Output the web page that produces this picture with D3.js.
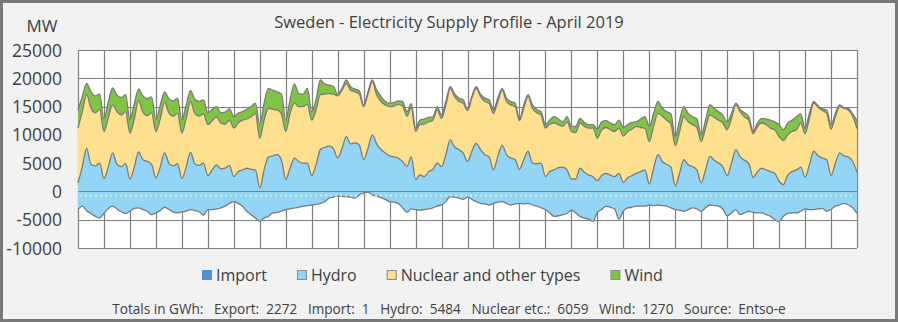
<!DOCTYPE html>
<html>
<head>
<meta charset="utf-8">
<script src="https://cdn.jsdelivr.net/npm/d3@7"></script>
<style>
  body { margin: 0; background: #fff; }
  svg text { font-family: "Open Sans", sans-serif; fill: #404040; }
</style>
</head>
<body>
<div id="chart"></div>
<script>
// one sample every 4 hours, 6 per day (0h 4h 8h 12h 16h 20h), last value = end of month
const STEP = 4
const hydro = [
  1500, 4400, 7600, 4800, 4500, 5000,
  2300, 4300, 6800, 4800, 4400, 4900,
  2200, 4300, 7000, 5600, 5300, 4800,
  2400, 4300, 6800, 5000, 4500, 4900,
  2300, 4300, 6900, 4900, 4600, 5000,
  2800, 3800, 4700, 4000, 4100, 4600,
  2600, 3500, 3800, 4100, 3900, 3800,
  600, 3800, 6100, 6300, 6500, 5600,
  2100, 4100, 5900, 5300, 5000, 5000,
  2800, 4700, 7400, 7800, 8000, 7600,
  5900, 7600, 9700, 8400, 8600, 8200,
  5600, 7600, 10000, 8400, 7400, 6800,
  6300, 6100, 5900, 5300, 4400, 6100,
  2100, 2900, 2600, 3500, 3900, 5000,
  4400, 6500, 9100, 7900, 7400, 6800,
  5300, 7100, 8500, 7400, 6500, 6100,
  3800, 6200, 8200, 6500, 5900, 5600,
  3900, 5600, 7100, 5000, 4900, 5000,
  2600, 3500, 3800, 4200, 4300, 3800,
  2200, 2200, 4100, 3400, 2900, 2600,
  1900, 2800, 3200, 2900, 2600, 3200,
  1600, 2400, 2800, 3200, 3500, 3800,
  1300, 4100, 6500, 5300, 4800, 4300,
  1000, 3200, 5600, 4700, 4400, 3800,
  1500, 3800, 6200, 5500, 5000, 4400,
  2800, 5000, 7400, 6100, 5500, 4900,
  2500, 3500, 4100, 3800, 3500, 3200,
  1800, 1200, 2900, 3500, 3800, 4300,
  2500, 4700, 7100, 6300, 5900, 5600,
  2800, 5000, 6800, 6300, 6100, 5300,
  3400
]
const nuclear = [
  9700, 9700, 9500, 9900, 9400, 9500,
  8300, 8700, 8500, 9300, 9100, 9200,
  8100, 8500, 9000, 8400, 8100, 9100,
  8200, 8500, 9000, 8900, 8800, 8900,
  8000, 8600, 9000, 8900, 8700, 8700,
  9000, 8700, 8500, 8100, 7800, 8000,
  8600, 8600, 8800, 8700, 9300, 10000,
  8800, 8800, 8600, 8200, 7900, 8100,
  8500, 9700, 9700, 9700, 10000, 10400,
  9800, 9700, 9700, 9400, 9300, 9600,
  11000, 10300, 9400, 9500, 9000, 9000,
  9400, 9600, 9400, 8700, 8500, 8500,
  8700, 9000, 9500, 9800, 8900, 8700,
  8500, 8900, 9300, 8800, 8700, 9400,
  8500, 8800, 9100, 8900, 8500, 8800,
  9000, 9400, 9700, 9400, 9400, 9500,
  10000, 9700, 9700, 9400, 9400, 9400,
  8600, 9100, 9700, 9700, 9000, 8500,
  8600, 8400, 8300, 7600, 7200, 8500,
  8400, 8200, 8000, 8100, 8300, 8600,
  7500, 8100, 8100, 8000, 8000, 8000,
  8200, 8200, 8200, 8300, 7800, 7400,
  7500, 7400, 7300, 8000, 7800, 7600,
  7100, 7400, 7600, 7600, 7400, 7500,
  7300, 7400, 7300, 7600, 7600, 7700,
  8100, 7900, 7900, 8000, 7700, 7700,
  7700, 8000, 8000, 8000, 7700, 7700,
  7900, 7800, 7100, 7100, 7100, 7800,
  7700, 8200, 8500, 8600, 8400, 8200,
  8200, 8200, 8200, 8400, 8300, 8000,
  7700
]
const wind = [
  3200, 2700, 2000, 2900, 3000, 2700,
  2200, 2800, 3000, 2900, 3100, 3000,
  2300, 2700, 2100, 2900, 3000, 2800,
  2100, 2400, 1800, 2500, 2700, 2700,
  2300, 2400, 1900, 2500, 2600, 2500,
  2100, 2000, 1800, 1800, 2100, 2000,
  2000, 1700, 1500, 1700, 1800, 1800,
  2400, 3000, 3500, 3400, 3200, 3500,
  2000, 2400, 3400, 2300, 2200, 2800,
  1500, 1800, 2600, 1800, 1500, 1400,
  300, 300, 600, 600, 500, 600,
  300, 400, 300, 800, 900, 600,
  600, 600, 600, 800, 800, 700,
  600, 800, 900, 800, 600, 600,
  600, 600, 300, 500, 600, 600,
  200, 300, 300, 400, 600, 600,
  600, 600, 300, 600, 600, 600,
  300, 600, 300, 600, 600, 600,
  600, 700, 1100, 1000, 800, 900,
  900, 1100, 800, 700, 600, 600,
  1600, 1400, 1200, 1200, 1200, 1400,
  1500, 1200, 1200, 800, 1500, 2000,
  2700, 2300, 2100, 1400, 1500, 1800,
  1600, 2000, 1800, 1500, 1400, 1500,
  1200, 1400, 1800, 1600, 1500, 1400,
  1400, 900, 300, 400, 700, 600,
  400, 600, 800, 1000, 1400, 1400,
  2100, 1900, 2100, 2000, 2300, 1600,
  1000, 900, 300, 200, 300, 600,
  800, 600, 300, 100, 300, 400,
  1400
]
const exportMW = [
  -3200, -2600, -3400, -3900, -4400, -4700,
  -3900, -3000, -2600, -3100, -3600, -3900,
  -3500, -3000, -2900, -3200, -3500, -4100,
  -3800, -3400, -2800, -3200, -3600, -3800,
  -3600, -3500, -3200, -3400, -3600, -4200,
  -3200, -3200, -3100, -2900, -2600, -2100,
  -1800, -2100, -2600, -3500, -4100, -4700,
  -5300, -4700, -4400, -3800, -3700, -3500,
  -3200, -3100, -2900, -2800, -2600, -2500,
  -2400, -2300, -2100, -1800, -1200, -1000,
  -800, -900, -900, -1000, -1200, -600,
  -300, -100, -600, -800, -1100, -1400,
  -1800, -1900, -2100, -2900, -3700, -3100,
  -3200, -3300, -3200, -3100, -2900, -2600,
  -2400, -1800, -900, -1000, -1200, -1400,
  -1000, -1400, -1800, -2100, -2200, -2400,
  -2100, -1900, -1800, -2100, -2400, -2200,
  -2100, -2200, -2100, -2400, -2600, -2900,
  -3200, -3800, -4400, -4300, -4100, -3900,
  -3300, -3800, -4400, -4700, -4900, -5300,
  -3700, -3200, -2600, -2800, -3100, -4900,
  -3500, -2900, -2800, -2600, -2600, -2600,
  -2400, -2500, -2400, -2500, -2600, -2900,
  -3200, -3300, -3500, -3200, -2900, -3100,
  -3500, -2900, -2400, -2500, -2600, -3100,
  -4300, -3800, -3200, -4100, -3800, -3500,
  -3700, -3800, -3800, -4100, -4400, -5000,
  -5300, -4400, -3900, -3800, -3800, -3500,
  -3100, -3200, -3200, -3100, -3000, -3500,
  -3200, -2600, -2400, -2100, -2400, -2900,
  -3900
]
const yTicks = [25000, 20000, 15000, 10000, 5000, 0, -5000, -10000]
const days = 30
const seriesNames = ['Import', 'Hydro', 'Nuclear and other types', 'Wind']
const totalLabels = ['Export', 'Import', 'Hydro', 'Nuclear etc.', 'Wind']
const totalValues = [2272, 1, 5484, 6059, 1270]
const source = 'Entso-e'
const title = 'Sweden - Electricity Supply Profile - April 2019'

const colors = {
  Import: '#4f92d3',
  Hydro: '#93d5f6',
  'Nuclear and other types': '#ffe08e',
  Wind: '#80c444'
}

function draw(){
  let dimensions = {
    width: 898,
    height: 322,
    margin: { top: 50, bottom: 74, left: 78, right: 41 }
  }
  dimensions.ctrWidth = dimensions.width - dimensions.margin.left - dimensions.margin.right
  dimensions.ctrHeight = dimensions.height - dimensions.margin.top - dimensions.margin.bottom

  const svg = d3.select('#chart')
    .append('svg')
    .attr('width', dimensions.width)
    .attr('height', dimensions.height)

  // background + frame
  svg.append('rect')
    .attr('x', 1.5).attr('y', 1.5)
    .attr('width', dimensions.width - 3).attr('height', dimensions.height - 3)
    .attr('fill', '#f2f2f2')
    .attr('stroke', '#787878')
    .attr('stroke-width', 3)

  const ctr = svg.append('g')
    .attr('transform', `translate(${dimensions.margin.left}, ${dimensions.margin.top})`)

  const rows = hydro.map((h, i) => ({
    hour: i * STEP,
    hydro: h,
    nuclear: nuclear[i],
    wind: wind[i],
    exp: exportMW[i]
  }))

  const xScale = d3.scaleLinear()
    .domain([0, days * 24])
    .range([0, dimensions.ctrWidth])
  const yScale = d3.scaleLinear()
    .domain([-10000, 25000])
    .range([dimensions.ctrHeight, 0])

  ctr.append('rect')
    .attr('width', dimensions.ctrWidth)
    .attr('height', dimensions.ctrHeight)
    .attr('fill', '#fff')

  // grid
  const gridColor = '#7f7f7f'
  ctr.selectAll('line.h')
    .data(yTicks)
    .join('line')
    .attr('class', 'h')
    .attr('x1', 0).attr('x2', dimensions.ctrWidth)
    .attr('y1', d => Math.round(yScale(d)) + 0.5)
    .attr('y2', d => Math.round(yScale(d)) + 0.5)
    .attr('stroke', gridColor)
  ctr.selectAll('line.v')
    .data(d3.range(days + 1))
    .join('line')
    .attr('class', 'v')
    .attr('y1', 0).attr('y2', dimensions.ctrHeight)
    .attr('x1', d => Math.round(xScale(d * 24)) + 0.5)
    .attr('x2', d => Math.round(xScale(d * 24)) + 0.5)
    .attr('stroke', gridColor)
    .attr('stroke-width', 1.2)

  const curve = d3.curveMonotoneX
  const stacked = d3.stack().keys(['hydro', 'nuclear', 'wind'])(rows)
  const fills = [colors.Hydro, colors['Nuclear and other types'], colors.Wind]

  // export (below zero) drawn in hydro colour
  ctr.append('path')
    .datum(rows)
    .attr('d', d3.area().curve(curve)
      .x(d => xScale(d.hour))
      .y0(yScale(0))
      .y1(d => yScale(d.exp)))
    .attr('fill', colors.Hydro)

  ctr.selectAll('path.layer')
    .data(stacked)
    .join('path')
    .attr('class', 'layer')
    .attr('d', d3.area().curve(curve)
      .x(d => xScale(d.data.hour))
      .y0(d => yScale(d[0]))
      .y1(d => yScale(d[1])))
    .attr('fill', (d, i) => fills[i])

  // outlines
  const lineGen = d3.line().curve(curve)
  ctr.selectAll('path.top')
    .data(stacked)
    .join('path')
    .attr('class', 'top')
    .attr('d', s => lineGen(s.map(d => [xScale(d.data.hour), yScale(d[1])])))
    .attr('fill', 'none')
    .attr('stroke', '#7a7a7a')
    .attr('stroke-width', 1.3)
  ctr.append('path')
    .attr('d', lineGen(rows.map(d => [xScale(d.hour), yScale(d.exp)])))
    .attr('fill', 'none')
    .attr('stroke', '#7a7a7a')
    .attr('stroke-width', 1.3)

  // faint dotted trace inside the export band
  ctr.append('line')
    .attr('x1', 2).attr('x2', dimensions.ctrWidth - 2)
    .attr('y1', yScale(-700)).attr('y2', yScale(-700))
    .attr('stroke', '#e4eeb4')
    .attr('stroke-width', 2)
    .attr('stroke-dasharray', '2,3')

  // zero line on top
  ctr.append('line')
    .attr('x1', 0).attr('x2', dimensions.ctrWidth)
    .attr('y1', Math.round(yScale(0)) + 0.5).attr('y2', Math.round(yScale(0)) + 0.5)
    .attr('stroke', gridColor)

  // y labels
  svg.selectAll('text.ytick')
    .data(yTicks)
    .join('text')
    .attr('class', 'ytick')
    .attr('x', 62)
    .attr('y', d => dimensions.margin.top + yScale(d) + 6.5)
    .attr('text-anchor', 'end')
    .style('font-size', '17.5px')
    .text(d => d)

  svg.append('text')
    .attr('x', 42).attr('y', 32)
    .attr('text-anchor', 'middle')
    .style('font-size', '17px')
    .text('MW')

  svg.append('text')
    .attr('x', 449).attr('y', 28)
    .attr('text-anchor', 'middle')
    .style('font-size', '16.5px')
    .text(title)

  // legend
  const legend = svg.append('g').attr('transform', 'translate(202, 270)')
  let lx = 0
  seriesNames.forEach(name => {
    const g = legend.append('g').attr('transform', `translate(${lx}, 0)`)
    g.append('rect')
      .attr('x', 0.5).attr('y', 0.5)
      .attr('width', 9).attr('height', 9)
      .attr('fill', colors[name])
      .attr('stroke', name === 'Import' ? colors[name] : '#8a8a8a')
    const t = g.append('text')
      .attr('x', 14).attr('y', 10.5)
      .style('font-size', '16px')
      .text(name)
    lx += 14 + t.node().getComputedTextLength() + 30
  })

  // totals footer
  const parts = totalLabels.map((l, i) => `${l}:  ${totalValues[i]}`)
  const footer = `Totals in GWh:   ${parts.join('   ')}   Source:  ${source}`
  svg.append('text')
    .attr('x', 449).attr('y', 314)
    .attr('text-anchor', 'middle')
    .attr('xml:space', 'preserve')
    .style('white-space', 'pre')
    .style('font-size', '13.6px')
    .text(footer)
}

draw()
</script>
</body>
</html>
